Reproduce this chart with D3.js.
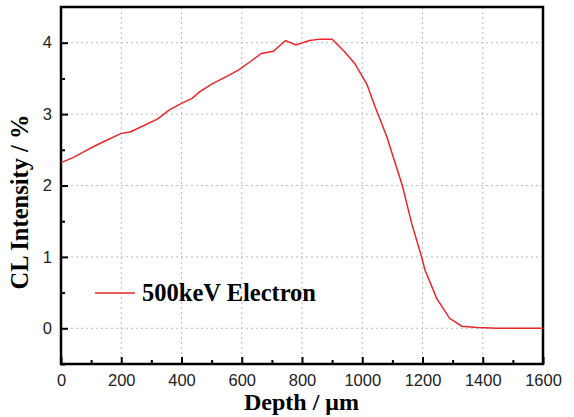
<!DOCTYPE html>
<html>
<head>
<meta charset="utf-8">
<script src="https://d3js.org/d3.v7.min.js"></script>
<style>
  body { margin: 0; background: #fff; }
  .tick text { font-family: "Liberation Sans", Arial, sans-serif; font-size: 16.5px; fill: #222; }
</style>
</head>
<body>
<div id="chart"></div>
<script>
// data
const depth = [0, 40, 75, 115, 150, 200, 230, 270, 320, 360, 400, 435, 460, 500, 560, 590, 630, 665, 705, 745, 780, 825, 860, 900, 940, 975, 1015, 1042, 1081, 1133, 1164, 1197, 1208, 1247, 1290, 1330, 1380, 1450, 1600];
const intensity = [2.32, 2.39, 2.47, 2.56, 2.63, 2.73, 2.75, 2.83, 2.93, 3.06, 3.15, 3.22, 3.31, 3.42, 3.55, 3.62, 3.74, 3.85, 3.88, 4.03, 3.97, 4.03, 4.05, 4.05, 3.88, 3.71, 3.42, 3.11, 2.69, 2.0, 1.47, 1.0, 0.82, 0.42, 0.14, 0.03, 0.01, 0.0, 0.0];
const xTicks = [0, 200, 400, 600, 800, 1000, 1200, 1400, 1600];
const yTicks = [0, 1, 2, 3, 4];
const seriesName = "500keV Electron";

const data = depth.map((d, i) => ({ x: d, y: intensity[i] }));

var margin = { top: 7, right: 31, bottom: 53, left: 61 },
    width = 574 - margin.left - margin.right,
    height = 417 - margin.top - margin.bottom;

const svg = d3.select("#chart")
  .append("svg")
    .attr("width", 574)
    .attr("height", 417)
  .append("g")
    .attr("transform", `translate(${margin.left}, ${margin.top})`);

const x = d3.scaleLinear().domain([0, 1600]).range([0, width]);
const y = d3.scaleLinear().domain([-0.5, 4.5]).range([height, 0]);

// dotted grid
svg.append("g")
  .selectAll("line")
  .data(xTicks.filter(t => t > 0 && t < 1600))
  .join("line")
    .attr("x1", d => x(d)).attr("x2", d => x(d))
    .attr("y1", 0).attr("y2", height)
    .attr("stroke", "#bbb").attr("stroke-dasharray", "2,3");
svg.append("g")
  .selectAll("line")
  .data(yTicks)
  .join("line")
    .attr("x1", 0).attr("x2", width)
    .attr("y1", d => y(d)).attr("y2", d => y(d))
    .attr("stroke", "#bbb").attr("stroke-dasharray", "2,3");

// minor ticks
svg.append("g")
  .attr("transform", `translate(0, ${height})`)
  .call(d3.axisBottom(x).tickValues(d3.range(100, 1600, 200)).tickSize(-4).tickFormat(""))
  .call(g => g.select(".domain").remove())
  .selectAll("line").attr("stroke-width", 2);
svg.append("g")
  .call(d3.axisLeft(y).tickValues([-0.5, 0.5, 1.5, 2.5, 3.5]).tickSize(-4).tickFormat(""))
  .call(g => g.select(".domain").remove())
  .selectAll("line").attr("stroke-width", 2);

// major axes
const xAxis = svg.append("g")
  .attr("transform", `translate(0, ${height})`)
  .call(d3.axisBottom(x).tickValues(xTicks).tickFormat(d3.format("d")).tickSize(-7).tickPadding(10));
xAxis.select(".domain").remove();
xAxis.selectAll("line").attr("stroke-width", 2);

const yAxis = svg.append("g")
  .call(d3.axisLeft(y).tickValues(yTicks).tickFormat(d3.format("d")).tickSize(-7).tickPadding(9));
yAxis.select(".domain").remove();
yAxis.selectAll("line").attr("stroke-width", 2);

// frame
svg.append("rect")
  .attr("width", width).attr("height", height)
  .attr("fill", "none").attr("stroke", "#000").attr("stroke-width", 2.5);

// the line
svg.append("path")
  .datum(data)
  .attr("fill", "none")
  .attr("stroke", "#e8262b")
  .attr("stroke-width", 1.5)
  .attr("d", d3.line().x(d => x(d.x)).y(d => y(d.y)));

// legend
svg.append("line")
  .attr("x1", 34).attr("x2", 74)
  .attr("y1", 286).attr("y2", 286)
  .attr("stroke", "#e8262b").attr("stroke-width", 1.5);
svg.append("text")
  .attr("x", 81).attr("y", 294)
  .style("font-family", "'Liberation Serif', 'Times New Roman', serif")
  .style("font-weight", "bold").style("font-size", "24.5px")
  .text(seriesName);

// axis titles
svg.append("text")
  .attr("x", 240.5).attr("y", 403)
  .attr("text-anchor", "middle")
  .style("font-family", "'Liberation Serif', 'Times New Roman', serif")
  .style("font-weight", "bold").style("font-size", "24px")
  .text("Depth / μm");

svg.append("text")
  .attr("transform", `translate(-33, ${195}) rotate(-90)`)
  .attr("text-anchor", "middle")
  .style("font-family", "'Liberation Serif', 'Times New Roman', serif")
  .style("font-weight", "bold").style("font-size", "24.5px")
  .text("CL Intensity / %");
</script>
</body>
</html>
